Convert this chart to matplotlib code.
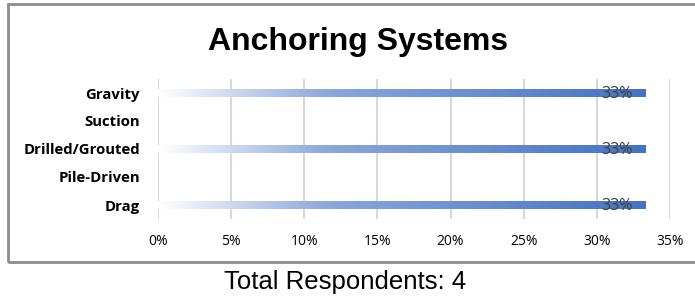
import matplotlib
matplotlib.use("Agg")
import matplotlib.pyplot as plt
import numpy as np
from matplotlib.patches import Rectangle
from matplotlib.colors import LinearSegmentedColormap

categories = ["Gravity", "Suction", "Drilled/Grouted", "Pile-Driven", "Drag"]
values = [0.3333, 0.0, 0.3333, 0.0, 0.3333]
labels = ["33%", "", "33%", "", "33%"]
xticks = [0, 0.05, 0.10, 0.15, 0.20, 0.25, 0.30, 0.35]
xticklabels = ["0%", "5%", "10%", "15%", "20%", "25%", "30%", "35%"]

W, H = 695, 300
fig = plt.figure(figsize=(W / 100, H / 100), dpi=100)
fig.patch.set_facecolor("white")

# outer border
fig.add_artist(Rectangle((8 / W, (H - 262) / H), (W + 5 - 8) / W, (262 - 4) / H,
                         transform=fig.transFigure, fill=False,
                         edgecolor="#8c8c8c", linewidth=2))

ax = fig.add_axes([158 / W, (H - 219) / H, (670 - 158) / W, (219 - 79) / H])
ypos = np.arange(len(categories))
bars = ax.barh(ypos, values, height=0.26, color="none", edgecolor="none", zorder=3)

cmap = LinearSegmentedColormap.from_list(
    "g", [(0.0, "#ffffff"), (0.35, "#8aa6dc"), (1.0, "#4472c4")])
grad = np.linspace(0, 1, 256).reshape(1, -1)
for b in bars:
    w = b.get_width()
    if w <= 0:
        continue
    x0, y0, h = b.get_x(), b.get_y(), b.get_height()
    ax.imshow(grad, cmap=cmap, aspect="auto",
              extent=(x0, x0 + w, y0 + h, y0), zorder=3, interpolation="bilinear")
ax.set_xlim(0, 0.35)
ax.set_ylim(len(categories) - 0.5, -0.5)

for b, lab in zip(bars, labels):
    if lab:
        ax.text(b.get_width() - 0.0085, b.get_y() + b.get_height() / 2 + 0.04, lab,
                ha="right", va="center", fontsize=11.5, color="#404040",
                family="Open Sans", zorder=4)

ax.set_xticks(xticks)
ax.set_xticklabels(xticklabels, family="Open Sans", fontsize=10, color="#000000")
ax.set_yticks(ypos)
ax.set_yticklabels(categories, family="Open Sans", fontsize=10.7, fontweight="bold")
ax.tick_params(axis="both", length=0)
ax.tick_params(axis="x", pad=11)
ax.tick_params(axis="y", pad=13)
ax.grid(axis="x", color="#d9d9d9", linewidth=1.5, zorder=0)
ax.set_axisbelow(True)
for s in ax.spines.values():
    s.set_visible(False)

fig.text(358 / W, 1 - 42 / H, "Anchoring Systems", ha="center", va="center",
         family="Liberation Sans", fontweight="bold", fontsize=23)
fig.text(345 / W, 1 - 282 / H, "Total Respondents: 4", ha="center", va="center",
         family="Liberation Sans", fontsize=18.5)

fig.savefig("out.png", dpi=100, facecolor="white")
